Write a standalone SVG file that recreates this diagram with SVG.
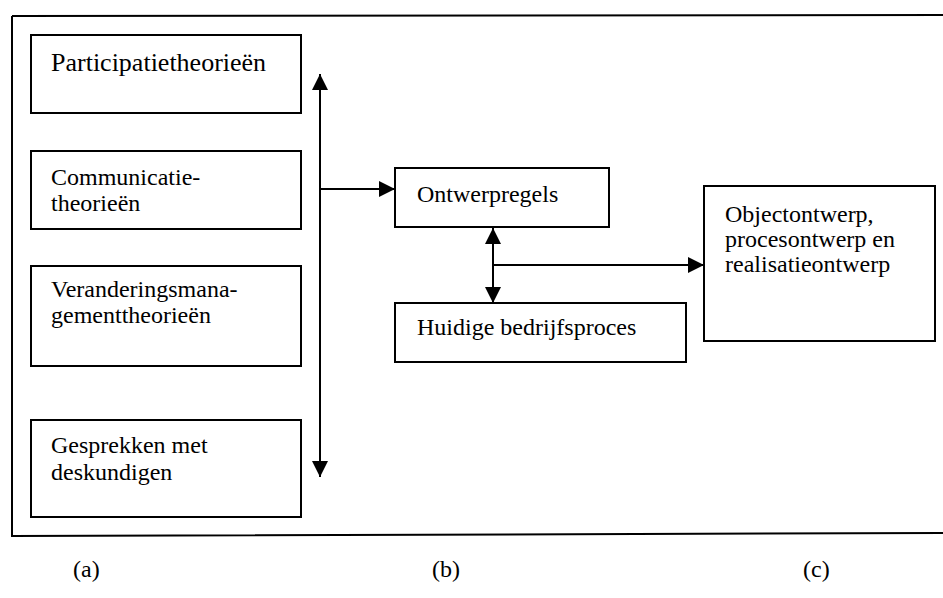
<svg xmlns="http://www.w3.org/2000/svg" width="943" height="598" viewBox="0 0 943 598">
<style>
.box{fill:#fff;stroke:#000;stroke-width:2}
.c{stroke:#000;stroke-width:2;fill:none}
</style>
<defs>
<marker id="ah" viewBox="0 0 16 16" refX="16" refY="8" markerWidth="16" markerHeight="16" markerUnits="userSpaceOnUse" orient="auto-start-reverse">
<path d="M0,0 L16,8 L0,16 Z" fill="#000"/>
</marker>
</defs>
<rect width="943" height="598" fill="#fff"/>
<g font-family="Liberation Serif, serif" font-size="24" fill="#000">
<g id="frame"><path d="M12,16 L945,15 M12,16 L12,536 L945,533" class="c"/></g>
<g id="n1"><rect class="box" x="31" y="35" width="270" height="78"/><text x="51" y="71" font-size="26">Participatietheorieën</text></g>
<g id="n2"><rect class="box" x="31" y="151" width="270" height="78"/><text x="51" y="185">Communicatie-</text><text x="51" y="211">theorieën</text></g>
<g id="n3"><rect class="box" x="31" y="266" width="270" height="100"/><text x="51" y="297">Veranderingsmana-</text><text x="51" y="323">gementtheorieën</text></g>
<g id="n4"><rect class="box" x="31" y="420" width="270" height="97"/><text x="51" y="453">Gesprekken met</text><text x="51" y="480">deskundigen</text></g>
<g id="n5"><rect class="box" x="395" y="168" width="214" height="59"/><text x="417" y="202">Ontwerpregels</text></g>
<g id="n6"><rect class="box" x="395" y="303" width="291" height="59"/><text x="417" y="335">Huidige bedrijfsproces</text></g>
<g id="n7"><rect class="box" x="704" y="186" width="231" height="155"/><text x="725" y="222">Objectontwerp,</text><text x="725" y="247">procesontwerp en</text><text x="725" y="272">realisatieontwerp</text></g>
<g id="connectors">
<path class="c" d="M320,74 L320,477" marker-start="url(#ah)" marker-end="url(#ah)"/>
<path class="c" d="M320,189 L395,189" marker-end="url(#ah)"/>
<path class="c" d="M493,228 L493,303" marker-start="url(#ah)" marker-end="url(#ah)"/>
<path class="c" d="M493,265 L704,265" marker-end="url(#ah)"/>
</g>
<g id="labels">
<text x="73" y="577">(a)</text>
<text x="432" y="577">(b)</text>
<text x="803" y="577">(c)</text>
</g>
</g>
</svg>
